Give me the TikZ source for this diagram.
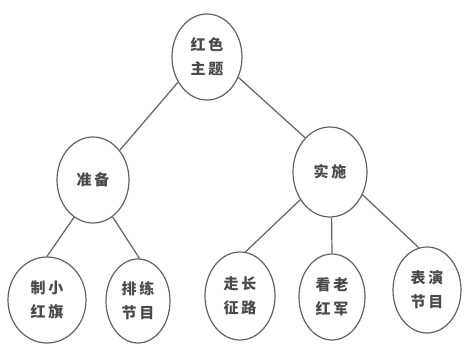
\documentclass[tikz,border=0pt]{standalone}
\usepackage{fontspec}
\newfontfamily\cjk[LetterSpace=18]{Noto Sans CJK SC}
\usetikzlibrary{shapes.geometric}
\definecolor{linegray}{HTML}{626262}
\definecolor{textgray}{HTML}{4A4A4A}
\tikzset{
  bubble/.style={ellipse, draw=linegray, line width=1.2pt, inner sep=0pt,
    text=textgray, align=center, font=\cjk\bfseries\fontsize{15}{24}\selectfont},
  link/.style={draw=linegray, line width=1.2pt}
}
\begin{document}
\begin{tikzpicture}[x=1pt,y=1pt]
\useasboundingbox[fill=white] (0,0) rectangle (466,-347);
\node[bubble, minimum width=70pt, minimum height=86pt] (top) at (207,-57) {红色\\主题};
\node[bubble, minimum width=72pt, minimum height=86pt] (zb) at (93,-180) {准备};
\node[bubble, minimum width=74pt, minimum height=90pt] (ss) at (330,-172) {实施};
\node[bubble, minimum width=78pt, minimum height=86pt] (a) at (47,-300) {制小\\红旗};
\node[bubble, minimum width=64pt, minimum height=84pt] (b) at (138,-301) {排练\\节目};
\node[bubble, minimum width=70pt, minimum height=88pt] (c) at (240,-296) {走长\\征路};
\node[bubble, minimum width=66pt, minimum height=86pt] (d) at (332,-297) {看老\\红军};
\node[bubble, minimum width=68pt, minimum height=86pt] (e) at (427,-290) {表演\\节目};
\path[link] (top.221) -- (zb.48);
\path[link] (top.327) -- (ss.126);
\path[link] (zb.243) -- (a.90);
\path[link] (zb.298) -- (b.88);
\path[link] (ss.223) -- (c.83);
\path[link] (ss.272) -- (d.90);
\path[link] (ss.325) -- (e.101);
\end{tikzpicture}
\end{document}
